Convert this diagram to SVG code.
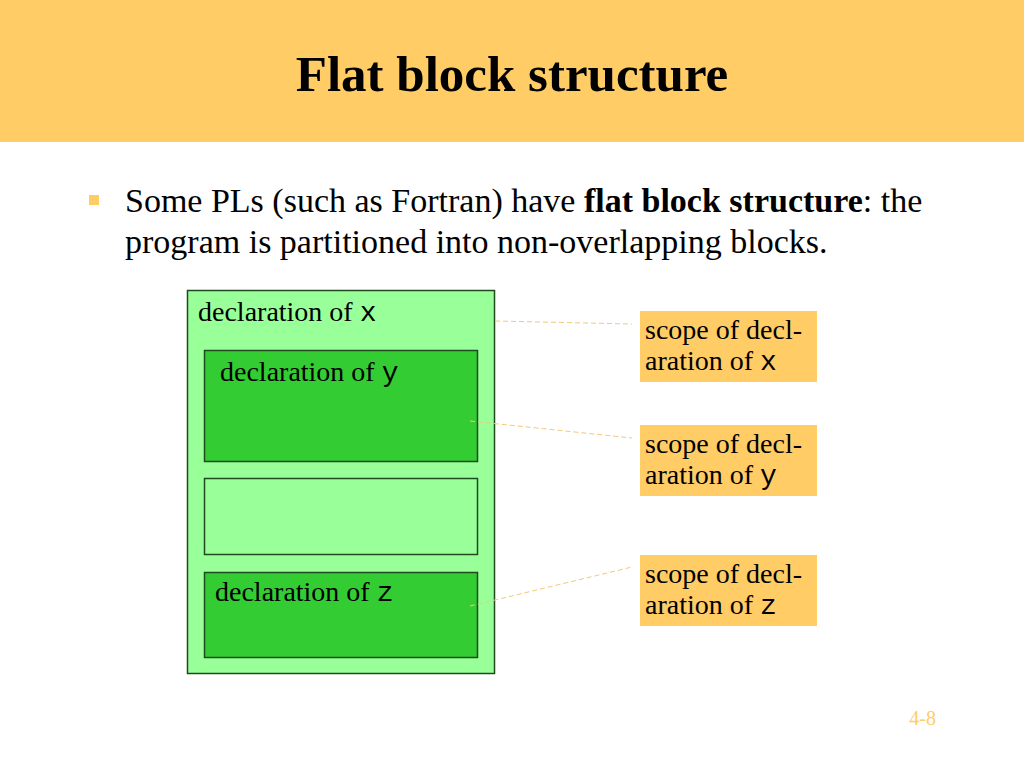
<svg xmlns="http://www.w3.org/2000/svg" width="1024" height="768" viewBox="0 0 1024 768">
<style>
.t{font-family:"Liberation Serif","Times New Roman",serif;fill:#000}
.m{font-family:"Liberation Mono","Courier New",monospace}
.lite{fill:#99FF99;stroke:#1f4a1f;stroke-width:1.5}
.dark{fill:#33CC33;stroke:#1f4a1f;stroke-width:1.5}
.scope{fill:#FFCC66}
.dash{stroke:#F5C87A;stroke-width:1;stroke-dasharray:5 3;fill:none}
</style>
<rect width="1024" height="768" fill="#fff"/>
<rect x="0" y="0" width="1024" height="142" fill="#FFCC66"/>
<text class="t" x="512" y="91" font-size="51" font-weight="bold" text-anchor="middle">Flat block structure</text>
<rect x="89" y="195" width="10" height="10" fill="#FFCC66"/>
<text class="t" x="125" y="212" font-size="34">Some PLs (such as Fortran) have <tspan font-weight="bold">flat block structure</tspan>: the</text>
<text class="t" x="125" y="253" font-size="34">program is partitioned into non-overlapping blocks.</text>
<g id="outer">
<rect class="lite" x="187.5" y="290.5" width="307" height="383"/>
<text class="t" x="198" y="321" font-size="28">declaration of <tspan class="m">x</tspan></text>
</g>
<g id="blockY">
<rect class="dark" x="204.5" y="350.5" width="273" height="111"/>
<text class="t" x="220" y="381" font-size="28">declaration of <tspan class="m">y</tspan></text>
</g>
<g id="blockMid">
<rect class="lite" x="204.5" y="478.5" width="273" height="76"/>
</g>
<g id="blockZ">
<rect class="dark" x="204.5" y="572.5" width="273" height="85"/>
<text class="t" x="215" y="601" font-size="28">declaration of <tspan class="m">z</tspan></text>
</g>
<g id="scopeX">
<rect class="scope" x="640" y="311" width="177" height="71"/>
<text class="t" x="645" y="339" font-size="28">scope of decl-</text>
<text class="t" x="645" y="370" font-size="28">aration of <tspan class="m">x</tspan></text>
</g>
<g id="scopeY">
<rect class="scope" x="640" y="425" width="177" height="71"/>
<text class="t" x="645" y="453" font-size="28">scope of decl-</text>
<text class="t" x="645" y="484" font-size="28">aration of <tspan class="m">y</tspan></text>
</g>
<g id="scopeZ">
<rect class="scope" x="640" y="555" width="177" height="71"/>
<text class="t" x="645" y="583" font-size="28">scope of decl-</text>
<text class="t" x="645" y="614" font-size="28">aration of <tspan class="m">z</tspan></text>
</g>
<g id="connectors">
<line class="dash" x1="495" y1="321" x2="632" y2="324"/>
<line class="dash" x1="470" y1="421" x2="632" y2="438"/>
<line class="dash" x1="470" y1="606" x2="632" y2="567"/>
</g>
<text x="936" y="725" font-size="20" text-anchor="end" fill="#FFCC66" font-family="Liberation Serif,serif">4-8</text>
</svg>
